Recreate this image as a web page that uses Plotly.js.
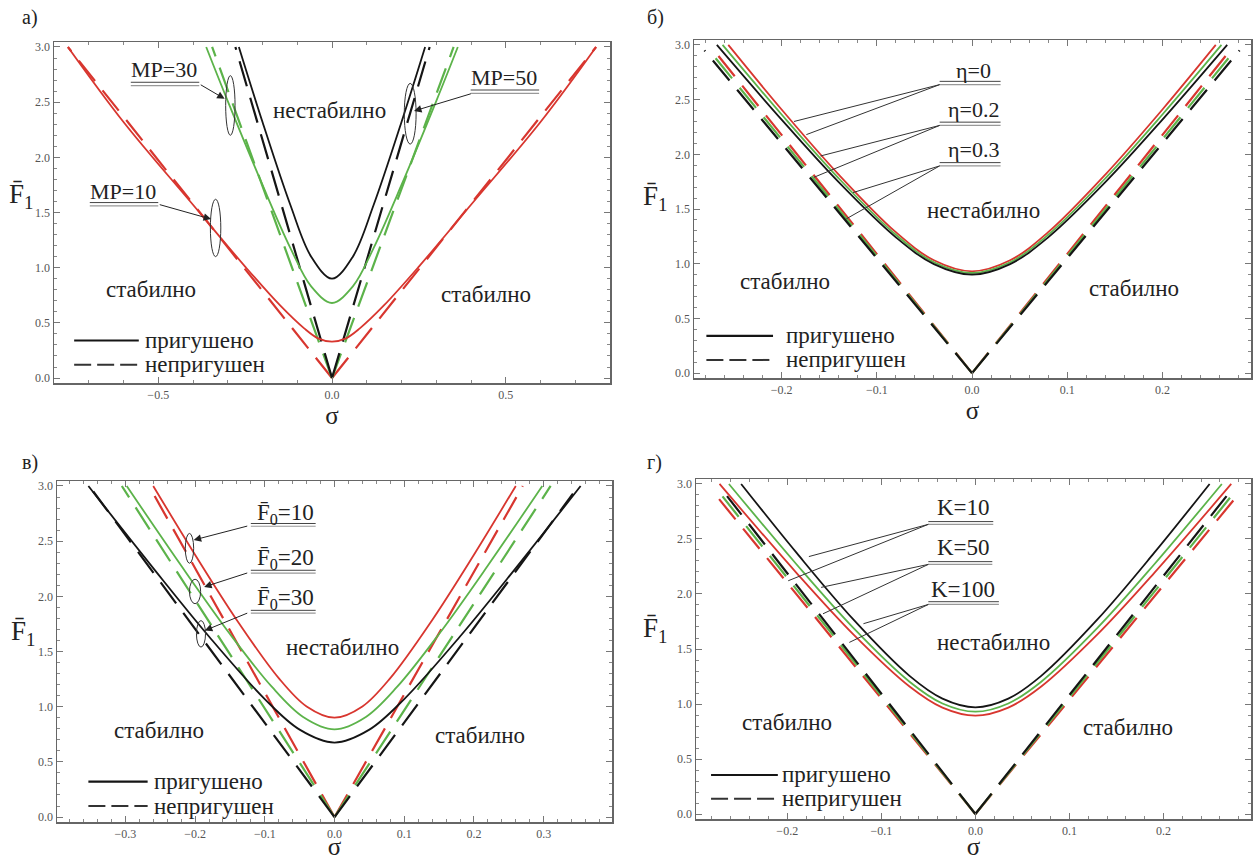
<!DOCTYPE html>
<html><head><meta charset="utf-8">
<script src="https://cdn.plot.ly/plotly-3.0.1.min.js"></script>
<style>html,body{margin:0;padding:0;background:#fff}#chart{width:1253px;height:860px}</style>
</head><body><div id="chart"></div>
<script>
// ---------- Panel а (MP) ----------
const sigA_red = [-0.76,-0.6,-0.4,-0.25,-0.15,-0.08,-0.04,0,0.04,0.08,0.15,0.25,0.4,0.6,0.76];
const FA_red   = [3.0,2.32,1.57,1.01,0.66,0.45,0.36,0.33,0.36,0.45,0.66,1.01,1.57,2.32,3.0];
const sigA_grn = [-0.362,-0.3,-0.2,-0.12,-0.06,0,0.06,0.12,0.2,0.3,0.362];
const FA_grn   = [3.0,2.51,1.75,1.18,0.83,0.68,0.83,1.18,1.75,2.51,3.0];
const sigA_blk = [-0.268,-0.2,-0.12,-0.06,0,0.06,0.12,0.2,0.268];
const FA_blk   = [3.0,2.32,1.57,1.10,0.90,1.10,1.57,2.32,3.0];
const sigA_redD = [-0.76,0,0.76];   const FA_redD = [3.0,0,3.0];
const sigA_grnD = [-0.345,0,0.35];  const FA_grnD = [3.0,0,3.0];
const sigA_blkD = [-0.278,0,0.281]; const FA_blkD = [3.0,0,3.0];
// ---------- Panel б (η) ----------
const sigB_red = [-0.256,-0.2,-0.14,-0.08,-0.04,0,0.04,0.08,0.14,0.2,0.256];
const FB_red   = [3.0,2.41,1.815,1.288,1.031,0.93,1.031,1.288,1.815,2.41,3.0];
const sigB_grn = [-0.262,-0.2,-0.14,-0.08,-0.04,0,0.04,0.08,0.14,0.2,0.262];
const FB_grn   = [3.0,2.364,1.78,1.264,1.013,0.915,1.013,1.264,1.78,2.364,3.0];
const sigB_blk = [-0.268,-0.2,-0.14,-0.08,-0.04,0,0.04,0.08,0.14,0.2,0.268];
const FB_blk   = [3.0,2.317,1.745,1.241,0.996,0.90,0.996,1.241,1.745,2.317,3.0];
const sigB_redD = [-0.271,0,0.271]; const FB_redD = [2.95,0,2.95];
const sigB_grnD = [-0.276,0,0.276]; const FB_grnD = [2.95,0,2.95];
const sigB_blkD = [-0.281,0,0.281]; const FB_blkD = [2.95,0,2.95];
// ---------- Panel в (F0) ----------
const sigC_red = [-0.26,-0.2,-0.14,-0.08,-0.04,0,0.04,0.08,0.14,0.2,0.26];
const FC_red   = [3.0,2.377,1.784,1.259,1.002,0.90,1.002,1.259,1.784,2.377,3.0];
const sigC_grn = [-0.298,-0.22,-0.15,-0.09,-0.045,0,0.045,0.09,0.15,0.22,0.298];
const FC_grn   = [3.0,2.279,1.659,1.181,0.907,0.795,0.907,1.181,1.659,2.279,3.0];
const sigC_blk = [-0.353,-0.26,-0.18,-0.1,-0.05,0,0.05,0.1,0.18,0.26,0.353];
const FC_blk   = [3.0,2.256,1.636,1.069,0.792,0.675,0.792,1.069,1.636,2.256,3.0];
const sigC_redD = [-0.266,0,0.27];  const FC_redD = [3.0,0,3.0];
const sigC_grnD = [-0.305,0,0.31];  const FC_grnD = [3.0,0,3.0];
const sigC_blkD = [-0.346,0,0.342]; const FC_blkD = [2.95,0,2.93];
// ---------- Panel г (K) ----------
const sigD_blk = [-0.249,-0.19,-0.13,-0.07,-0.035,0,0.035,0.07,0.13,0.19,0.249];
const FD_blk   = [3.0,2.373,1.771,1.256,1.049,0.97,1.049,1.256,1.771,2.373,3.0];
const sigD_grn = [-0.262,-0.19,-0.13,-0.07,-0.035,0,0.035,0.07,0.13,0.19,0.262];
const FD_grn   = [3.0,2.268,1.694,1.203,1.005,0.93,1.005,1.203,1.694,2.268,3.0];
const sigD_red = [-0.272,-0.19,-0.13,-0.07,-0.035,0,0.035,0.07,0.13,0.19,0.272];
const FD_red   = [3.0,2.19,1.635,1.159,0.967,0.894,0.967,1.159,1.635,2.19,3.0];
const sigD_redD = [-0.278,0,0.281]; const FD_redD = [2.92,0,2.92];
const sigD_grnD = [-0.271,0,0.274]; const FD_grnD = [2.91,0,2.91];
const sigD_blkD = [-0.264,0,0.267]; const FD_blkD = [2.89,0,2.89];

const panelLetters = ['а)','б)','в)','г)'];
const labelsA = ['MP=30','MP=50','MP=10'];
const labelsB = ['η=0','η=0.2','η=0.3'];
const labelsC = ['F̄<sub>0</sub>=10','F̄<sub>0</sub>=20','F̄<sub>0</sub>=30'];
const labelsD = ['K=10','K=50','K=100'];
const legendTexts = ['пригушено','непригушен'];
const regionTexts = ['нестабилно','стабилно'];

const RED='#d8362f', GRN='#5cb34a', BLK='#151515';
const SERIF='Liberation Serif, Times New Roman, serif';
const DASH='26px,12px';
const W=1253,H=860;
const px=x=>x/W, py=y=>1-y/H;

const traces=[];
function solid(x,y,c,ax){traces.push({x:x,y:y,xaxis:'x'+ax,yaxis:'y'+ax,mode:'lines',line:{color:c,width:1.8,shape:'spline',smoothing:1.0},hoverinfo:'skip',showlegend:false});}
// dashed V drawn as two branches that both start at the vertex so the dash pattern starts there
function dashed(x,y,c,ax){
  [[1,0],[1,2]].forEach(ix=>traces.push({x:ix.map(i=>x[i]),y:ix.map(i=>y[i]),xaxis:'x'+ax,yaxis:'y'+ax,mode:'lines',
    line:{color:c,width:2.2,dash:DASH},hoverinfo:'skip',showlegend:false}));
}
dashed(sigA_redD,FA_redD,RED,'');dashed(sigA_grnD,FA_grnD,GRN,'');dashed(sigA_blkD,FA_blkD,BLK,'');
solid(sigA_red,FA_red,RED,'');solid(sigA_grn,FA_grn,GRN,'');solid(sigA_blk,FA_blk,BLK,'');
dashed(sigB_redD,FB_redD,RED,'2');dashed(sigB_grnD,FB_grnD,GRN,'2');dashed(sigB_blkD,FB_blkD,BLK,'2');
solid(sigB_red,FB_red,RED,'2');solid(sigB_grn,FB_grn,GRN,'2');solid(sigB_blk,FB_blk,BLK,'2');
dashed(sigC_redD,FC_redD,RED,'3');dashed(sigC_grnD,FC_grnD,GRN,'3');dashed(sigC_blkD,FC_blkD,BLK,'3');
solid(sigC_red,FC_red,RED,'3');solid(sigC_grn,FC_grn,GRN,'3');solid(sigC_blk,FC_blk,BLK,'3');
dashed(sigD_redD,FD_redD,RED,'4');dashed(sigD_grnD,FD_grnD,GRN,'4');dashed(sigD_blkD,FD_blkD,BLK,'4');
solid(sigD_red,FD_red,RED,'4');solid(sigD_grn,FD_grn,GRN,'4');solid(sigD_blk,FD_blk,BLK,'4');

function xax(dom,rng,dt,mdt,anchor){return {domain:dom,range:rng,anchor:anchor,dtick:dt,tick0:0,tickformat:'.1f',
 ticks:'inside',ticklen:6,tickwidth:1,tickcolor:'#777',minor:{dtick:mdt,tick0:0,ticks:'inside',ticklen:3,tickcolor:'#888',tickwidth:1},
 showline:true,linecolor:'#666',linewidth:1.5,mirror:'allticks',showgrid:false,zeroline:false,
 tickfont:{family:SERIF,size:12,color:'#555'},title:{text:'σ',font:{family:SERIF,size:25,color:'#222'},standoff:3}};}
function yax(dom,anchor){return {domain:dom,range:[-0.045,3.045],anchor:anchor,dtick:0.5,tick0:0,tickformat:'.1f',
 ticks:'inside',ticklen:6,tickwidth:1,tickcolor:'#777',minor:{dtick:0.1,tick0:0,ticks:'inside',ticklen:3,tickcolor:'#888',tickwidth:1},
 showline:true,linecolor:'#666',linewidth:1.5,mirror:'allticks',showgrid:false,zeroline:false,
 tickfont:{family:SERIF,size:12,color:'#555'}};}

const layout={width:W,height:H,margin:{l:0,r:0,t:0,b:0},paper_bgcolor:'#fff',plot_bgcolor:'#fff',showlegend:false,
 xaxis: xax([px(54),px(610)],[-0.8,0.8],0.5,0.1,'y'),
 yaxis: yax([py(383),py(42)],'x'),
 xaxis2:xax([px(694),px(1251)],[-0.292,0.293],0.1,0.02,'y2'),
 yaxis2:yax([py(378),py(40)],'x2'),
 xaxis3:xax([px(57),px(612)],[-0.398,0.398],0.1,0.02,'y3'),
 yaxis3:yax([py(822),py(481)],'x3'),
 xaxis4:xax([px(696),px(1251)],[-0.297,0.293],0.1,0.02,'y4'),
 yaxis4:yax([py(819),py(479)],'x4'),
 annotations:[],shapes:[]};
const A=layout.annotations,S=layout.shapes;
function txt(ax,x,y,t,size,anchor){A.push({xref:'x'+ax,yref:'y'+ax,x:x,y:y,text:t,showarrow:false,xanchor:anchor||'center',yanchor:'middle',font:{family:SERIF,size:size||23,color:'#222'}});}
function line(ax,x0,y0,x1,y1,c,w,dash){S.push({type:'line',xref:'x'+ax,yref:'y'+ax,x0:x0,y0:y0,x1:x1,y1:y1,line:{color:c,width:w||1,dash:dash||'solid'}});}
function ell(ax,x0,x1,y0,y1){S.push({type:'circle',xref:'x'+ax,yref:'y'+ax,x0:x0,x1:x1,y0:y0,y1:y1,line:{color:'#333',width:1}});}
function arrow(ax,tx,ty,hx,hy){A.push({xref:'x'+ax,yref:'y'+ax,axref:'x'+ax,ayref:'y'+ax,x:hx,y:hy,ax:tx,ay:ty,text:'',showarrow:true,arrowhead:2,arrowsize:1.5,arrowwidth:1,arrowcolor:'#222'});}
function dbl(ax,x0,x1,y,dy){line(ax,x0,y,x1,y,'#444',1);line(ax,x0,y-dy,x1,y-dy,'#999',1.2);}
function legend(ax,x0,x1,y1,y2,xt){line(ax,x0,y1,x1,y1,BLK,2.2);line(ax,x0,y2,x1,y2,'#333',2,'17px,6px');
 txt(ax,xt,y1,legendTexts[0],23,'left');txt(ax,xt,y2,legendTexts[1],23,'left');}

// Panel а
txt('',-0.006,2.42,regionTexts[0]);txt('',-0.522,0.80,regionTexts[1]);txt('',0.444,0.76,regionTexts[1]);
txt('',-0.483,2.80,labelsA[0],22);dbl('',-0.579,-0.382,2.68,0.03);arrow('',-0.382,2.665,-0.309,2.53);ell('',-0.306,-0.279,2.2,2.74);
txt('',0.494,2.72,labelsA[1],22);dbl('',0.399,0.596,2.61,0.03);arrow('',0.404,2.58,0.236,2.42);ell('',0.208,0.242,2.12,2.67);
txt('',-0.601,1.69,labelsA[2],22);dbl('',-0.697,-0.5,1.59,0.03);arrow('',-0.5,1.575,-0.348,1.44);ell('',-0.35,-0.32,1.1,1.62);
legend('',-0.742,-0.556,0.34,0.12,-0.545);
// Panel б
txt('2',0.012,1.485,regionTexts[0]);txt('2',-0.196,0.833,regionTexts[1]);txt('2',0.17,0.773,regionTexts[1]);
const bl=[[2.77,2.667,[[-0.187,2.30],[-0.174,2.18]]],[2.41,2.294,[[-0.159,1.985],[-0.166,1.79]]],[2.045,1.924,[[-0.125,1.65],[-0.132,1.41]]]];
bl.forEach((b,i)=>{txt('2',0.002,b[0],labelsB[i],22);dbl('2',-0.034,0.03,b[1],0.03);b[2].forEach(p=>line('2',-0.034,b[1]-0.03,p[0],p[1],'#333',1));});
legend('2',-0.279,-0.209,0.34,0.12,-0.198);
// Panel в
txt('3',0.011,1.54,regionTexts[0]);txt('3',-0.252,0.78,regionTexts[1]);txt('3',0.209,0.736,regionTexts[1]);
const cl=[[2.75,2.66,[-0.202,2.51],[-0.214,-0.202,2.30,2.57]],[2.34,2.236,[-0.187,2.085],[-0.208,-0.192,1.933,2.155]],[1.98,1.873,[-0.186,1.69],[-0.198,-0.185,1.54,1.78]]];
cl.forEach((c,i)=>{txt('3',-0.071,c[0],labelsC[i],23);dbl('3',-0.12,-0.027,c[1],0.025);arrow('3',-0.123,c[1]-0.02,c[2][0],c[2][1]);ell('3',c[3][0],c[3][1],c[3][2],c[3][3]);});
legend('3',-0.353,-0.268,0.32,0.10,-0.262);
// Panel г
txt('4',0.019,1.56,regionTexts[0]);txt('4',-0.2,0.833,regionTexts[1]);txt('4',0.162,0.788,regionTexts[1]);
const dl=[[2.79,2.658,0.019,[[-0.177,2.34],[-0.199,2.12]]],[2.42,2.294,0.018,[[-0.164,2.06],[-0.162,1.82]]],[2.045,1.93,0.025,[[-0.119,1.73],[-0.134,1.56]]]];
dl.forEach((d,i)=>{txt('4',-0.013,d[0],labelsD[i],23);dbl('4',-0.05,d[2],d[1],0.025);d[3].forEach(p=>line('4',-0.05,d[1]-0.025,p[0],p[1],'#333',1));});
legend('4',-0.281,-0.21,0.355,0.14,-0.208);

[[20,18],[645,18],[20,462],[645,462]].forEach((p,i)=>A.push({xref:'paper',yref:'paper',x:px(p[0]),y:py(p[1]),text:panelLetters[i],showarrow:false,xanchor:'left',yanchor:'middle',font:{family:SERIF,size:20,color:'#222'}}));
[[21,196],[655,198],[23,633],[655,630]].forEach(p=>A.push({xref:'paper',yref:'paper',x:px(p[0]),y:py(p[1]),text:'F̄<sub>1</sub>',showarrow:false,xanchor:'center',yanchor:'middle',font:{family:SERIF,size:27,color:'#222'}}));

Plotly.newPlot('chart',traces,layout,{staticPlot:true});
</script></body></html>
